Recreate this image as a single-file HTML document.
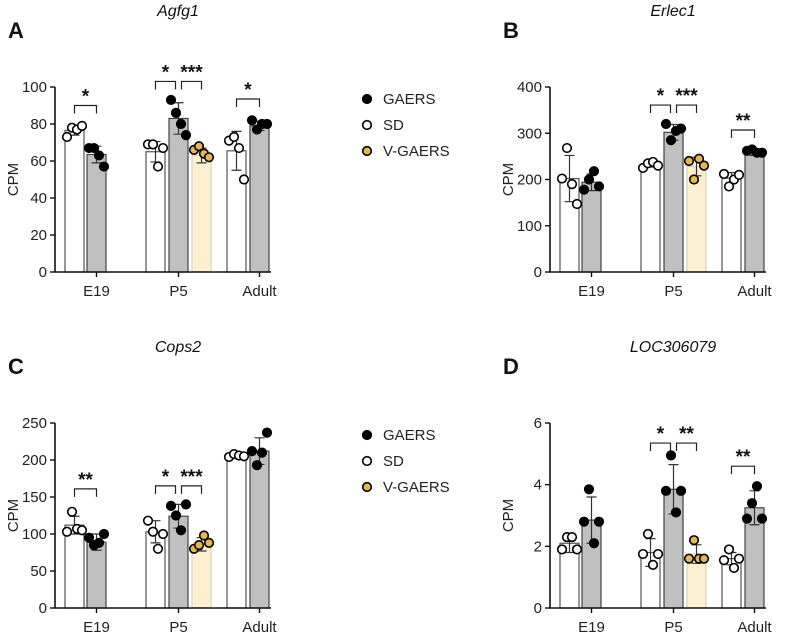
<!DOCTYPE html>
<html><head><meta charset="utf-8">
<style>
html,body{margin:0;padding:0;background:#fff;}
svg{display:block;font-family:"Liberation Sans",Arial,sans-serif;}
</style></head>
<body>
<svg id="fig" width="797" height="632" viewBox="0 0 797 632"></svg>
<script>
// ---- data ----
const groups = ["E19","P5","Adult"];
const series = ["SD","GAERS","V-GAERS"];
const titles = ["Agfg1","Erlec1","Cops2","LOC306079"];
const letters = ["A","B","C","D"];
const yMaxes = [100,400,250,6];
const yTicks = [[0,20,40,60,80,100],[0,100,200,300,400],[0,50,100,150,200,250],[0,2,4,6]];
// means per bar order: E19-SD, E19-G, P5-SD, P5-G, P5-VG, Adult-SD, Adult-G
const meansA = [76.5,63.5,65,83,63,65.5,79];
const sdA    = [2.5,4.5,5.5,8.5,4,10.5,2.5];
const ptsA   = [[73,78,77,79],[67,67,63,57],[69,69,57,67],[93,86,80,74],[66,68,64,62],[71,73,67,50],[82,77,80,80]];
const meansB = [202,194,232,302,228,203,258];
const sdB    = [50,18,5,17,20,12,6];
const ptsB   = [[202,268,190,147],[178,200,218,185],[225,235,238,230],[320,285,305,310],[240,200,245,230],[212,185,200,210],[262,265,258,258]];
const meansC = [112,89,103,124,86,205,212];
const sdC    = [12,11,15,16,9,2,18];
const ptsC   = [[103,130,107,105],[95,85,88,100],[118,103,80,100],[138,125,105,140],[80,85,98,88],[204,208,206,205],[212,193,210,237]];
const meansD = [2.1,2.85,1.8,3.85,1.75,1.6,3.25];
const sdD    = [0.3,0.75,0.45,0.8,0.3,0.2,0.55];
const ptsD   = [[1.9,2.3,2.3,1.9],[2.8,3.85,2.1,2.8],[1.75,2.4,1.4,1.75],[3.8,4.95,3.1,3.8],[1.6,2.2,1.6,1.6],[1.55,1.9,1.3,1.6],[2.9,3.4,3.95,2.9]];
// significance: [barFrom, barTo, level, label]
const sigA = [[0,1,90,"*"],[2,3,103,"*"],[3,4,103,"***"],[5,6,93.5,"*"]];
const sigB = [[2,3,361,"*"],[3,4,361,"***"],[5,6,307,"**"]];
const sigC = [[0,1,161,"**"],[2,3,165,"*"],[3,4,165,"***"]];
const sigD = [[2,3,5.35,"*"],[3,4,5.35,"**"],[5,6,4.6,"**"]];

const NS="http://www.w3.org/2000/svg";
const svg=document.getElementById('fig');
function mk(tag,attrs,parent){const e=document.createElementNS(NS,tag);for(const k in attrs)e.setAttribute(k,attrs[k]);(parent||svg).appendChild(e);return e;}

const barX=[10,32,91,114,137,172,195];
const barW=19;
const barSeries=[0,1,0,1,2,0,1];
const groupTickBar=[1,3,6];
const fills=["#ffffff","#c0c0c0","#fdefcf"];
const strokes=["#555","#444","#d8d2c4"];
const ptFill=["#ffffff","#000000","#e6b750"];
const jit=[-7.5,-2.5,2.5,7.5];

const panels=[
 {dx:0,dy:0,means:meansA,sd:sdA,pts:ptsA,sig:sigA},
 {dx:495,dy:0,means:meansB,sd:sdB,pts:ptsB,sig:sigB},
 {dx:0,dy:336,means:meansC,sd:sdC,pts:ptsC,sig:sigC},
 {dx:495,dy:336,means:meansD,sd:sdD,pts:ptsD,sig:sigD}
];

panels.forEach((p,i)=>{
  const g=mk('g',{transform:`translate(${p.dx},${p.dy})`});
  
  
  const ax=55, y0=272, yTop=87, yMax=yMaxes[i];
  const Y=v=>y0-(v/yMax)*(y0-yTop);
  const t=mk('text',{x:178,y:16,'text-anchor':'middle','font-size':16,'font-style':'italic',fill:'#111'},g);
  t.textContent=titles[i];
  
  
  const L=mk('text',{x:8,y:38,'font-size':22,'font-weight':'bold',fill:'#111'},g);
  L.textContent=letters[i];
  
  
  p.means.forEach((m,b)=>{
    const s=barSeries[b];
    const r=mk('rect',{x:ax+barX[b],y:Y(m),width:barW,height:y0-Y(m),fill:fills[s],stroke:strokes[s],'stroke-width':1.2},g);
    
    
  });
  p.means.forEach((m,b)=>{
    const cx=ax+barX[b]+barW/2, sd=p.sd[b];
    const e=mk('path',{d:`M${cx} ${Y(m-sd)}V${Y(m+sd)}M${cx-5} ${Y(m-sd)}H${cx+5}M${cx-5} ${Y(m+sd)}H${cx+5}`,stroke:'#333','stroke-width':1.2,fill:'none'},g);
    
    
  });
  p.pts.forEach((arr,b)=>{
    const s=barSeries[b]; const cx=ax+barX[b]+barW/2;
    arr.forEach((v,k)=>{
      const c=mk('circle',{cx:cx+jit[k],cy:Y(v),r:4.3,fill:ptFill[s],stroke:'#000','stroke-width':1.6},g);
      
      
    });
  });
  const a=mk('path',{d:`M${ax} ${yTop}V${y0}H${ax+216}`,stroke:'#111','stroke-width':1.6,fill:'none'},g);
  
  
  yTicks[i].forEach(v=>{
    mk('line',{x1:ax-5,x2:ax,y1:Y(v),y2:Y(v),stroke:'#111','stroke-width':1.4},g);
    const tl=mk('text',{x:ax-8,y:Y(v)+5,'text-anchor':'end','font-size':15,fill:'#222'},g);
    tl.textContent=v;
    
    
  });
  groupTickBar.forEach((b,gi)=>{
    const cx=ax+barX[b]+barW/2;
    mk('line',{x1:cx,x2:cx,y1:y0,y2:y0+5,stroke:'#111','stroke-width':1.4},g);
    const xl=mk('text',{x:cx,y:y0+24,'text-anchor':'middle','font-size':15,fill:'#222'},g);
    xl.textContent=groups[gi];
    
    
  });
  const yl=mk('text',{x:0,y:0,transform:`translate(18,${(y0+yTop)/2}) rotate(-90)`,'text-anchor':'middle','font-size':15,fill:'#222'},g);
  yl.textContent='CPM';
  
  
  p.sig.forEach(sg=>{
    const x1=ax+barX[sg[0]]+barW/2+(sg[0]===3?3:0), x2=ax+barX[sg[1]]+barW/2-(sg[1]===3?3:0), yy=Y(sg[2]);
    const br=mk('path',{d:`M${x1} ${yy+8}V${yy}H${x2}V${yy+8}`,stroke:'#222','stroke-width':1.2,fill:'none'},g);
    
    
    const st=mk('text',{x:(x1+x2)/2,y:yy-3,'text-anchor':'middle','font-size':19,'font-weight':'bold',fill:'#111'},g);
    st.textContent=sg[3];
    
    
  });
});

[0,336].forEach(dy=>{
  const lg=mk('g',{});
  
  
  const names=["GAERS","SD","V-GAERS"], cf=["#000","#fff","#e6b750"];
  names.forEach((n,k)=>{
    const y=99+dy+k*26;
    const c=mk('circle',{cx:367,cy:y,r:4.3,fill:cf[k],stroke:'#000','stroke-width':1.6},lg);
    
    
    const t=mk('text',{x:383,y:y+5,'font-size':15,fill:'#222'},lg);
    t.textContent=n;
    
    
  });
});
</script>
</body></html>
